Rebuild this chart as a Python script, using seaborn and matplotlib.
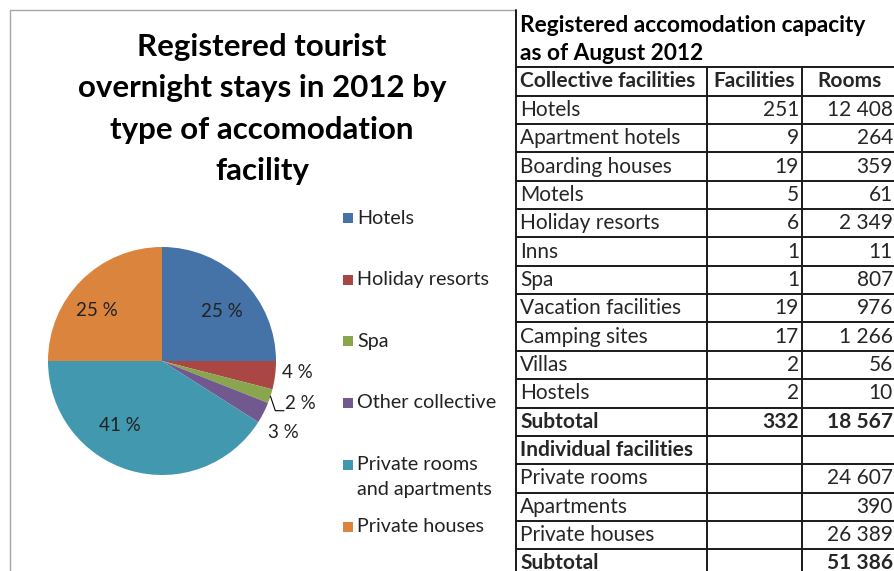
import matplotlib
matplotlib.use("Agg")
import matplotlib.pyplot as plt
import seaborn as sns
import numpy as np
from matplotlib.patches import Rectangle

# ---------------- data ----------------
categories = ["Hotels", "Holiday resorts", "Spa", "Other collective",
              "Private rooms\nand apartments", "Private houses"]
shares = [25, 4, 2, 3, 41, 25]
slice_colors = ["#4572A7", "#AA4643", "#89A54E", "#71588F", "#4198AF", "#DB843D"]

title_lines = ["Registered tourist", "overnight stays in 2012 by",
               "type of accomodation", "facility"]

table_title = ["Registered accomodation capacity", "as of August 2012"]
col_headers = ["Collective facilities", "Facilities", "Rooms"]
row_names = ["Hotels", "Apartment hotels", "Boarding houses", "Motels",
             "Holiday resorts", "Inns", "Spa", "Vacation facilities",
             "Camping sites", "Villas", "Hostels", "Subtotal",
             "Individual facilities", "Private rooms", "Apartments",
             "Private houses", "Subtotal"]
facilities = ["251", "9", "19", "5", "6", "1", "1", "19", "17", "2", "2", "332",
              "", "", "", "", ""]
rooms = ["12 408", "264", "359", "61", "2 349", "11", "807", "976", "1 266",
         "56", "10", "18 567", "", "24 607", "390", "26 389", "51 386"]
bold_rows = {"Subtotal", "Individual facilities"}

# ---------------- style ----------------
sns.set_theme(style="white")
plt.rcParams['font.family'] = ['Lato', 'DejaVu Sans']
W, H = 895, 571
fig = plt.figure(figsize=(W / 100, H / 100), dpi=100)
fig.patch.set_facecolor("white")

bg = fig.add_axes([0, 0, 1, 1])
bg.set_xlim(0, W)
bg.set_ylim(H, 0)
bg.axis("off")

# chart area border
bg.plot([10, 516], [10, 10], color="#A6A6A6", lw=1)
bg.plot([10, 10], [10, H], color="#A6A6A6", lw=1)

# title
for i, line in enumerate(title_lines):
    bg.text(262, 47 + 41.3 * i, line, ha="center", va="center",
            fontsize=22.5, fontweight="bold", color="black")

# ---------------- pie ----------------
cx, cy, R = 162, 361, 114
pax = fig.add_axes([(cx - R) / W, (H - cy - R) / H, 2 * R / W, 2 * R / H])
wedges, _ = pax.pie(shares, colors=slice_colors, startangle=90,
                    counterclock=False, radius=1,
                    wedgeprops=dict(linewidth=0))
pax.set_xlim(-1, 1)
pax.set_ylim(-1, 1)
pax.axis("off")

label_r = [0.68, 1.19, 1.27, 1.24, 0.68, 0.72]
label_dtheta = [-5, 2.4, 0.6, -3.5, -17, 7]
for w, v, r, dt, i in zip(wedges, shares, label_r, label_dtheta, range(len(shares))):
    mid = np.deg2rad((w.theta1 + w.theta2) / 2 + dt)
    x, y = r * np.cos(mid), r * np.sin(mid)
    txt = f"{v} %"
    if i == 2:
        m0 = np.deg2rad((w.theta1 + w.theta2) / 2)
        x0, y0 = np.cos(m0), np.sin(m0)
        pax.plot([x0, 0.994, 1.07], [y0, -0.436, -0.436], color="black",
                 lw=0.8, clip_on=False)
        pax.text(1.08, -0.375, txt, ha="left", va="center", fontsize=13.5,
                 color="#222222", clip_on=False)
    else:
        pax.text(x, y, txt, ha="center", va="center", fontsize=13.5,
                 color="#222222", clip_on=False)

# ---------------- legend ----------------
leg_y = [218, 280, 341, 403, 465, 527]
for w, cat, y in zip(wedges, categories, leg_y):
    bg.add_patch(Rectangle((343, y - 5), 10, 10, facecolor=w.get_facecolor(),
                           edgecolor="none"))
    for k, part in enumerate(cat.split("\n")):
        bg.text(357, y + 25 * k, part, ha="left", va="center",
                fontsize=14.2, color="#222222")

# ---------------- table ----------------
tx0, tx1, tx2, tx3 = 516, 706.7, 802.3, 900
row0, rh = 67.3, 28.35
lc, lw = "#1a1a1a", 1.4
fs = 15
n_rows = len(row_names) + 1
bg.plot([tx0, tx0], [10, H + 5], color=lc, lw=lw, clip_on=True)
for xv in (tx1, tx2):
    bg.plot([xv, xv], [row0, H + 5], color=lc, lw=lw)
for i in range(n_rows + 1):
    yv = row0 + rh * i
    if yv < H:
        bg.plot([tx0, tx3], [yv, yv], color=lc, lw=lw)

bg.text(520, 25, table_title[0], ha="left", va="center", fontsize=16.3,
        fontweight="bold", color="black")
bg.text(520, 53, table_title[1], ha="left", va="center", fontsize=16.3,
        fontweight="bold", color="black")

hy = row0 + rh / 2
bg.text(520, hy, col_headers[0], ha="left", va="center", fontsize=fs,
        fontweight="bold")
bg.text((tx1 + tx2) / 2, hy, col_headers[1], ha="center", va="center",
        fontsize=fs, fontweight="bold")
bg.text(850, hy, col_headers[2], ha="center", va="center", fontsize=fs,
        fontweight="bold")

for i, (nm, fa, ro) in enumerate(zip(row_names, facilities, rooms)):
    y = row0 + rh * (i + 1) + rh / 2
    fw = "bold" if nm in bold_rows else "normal"
    bg.text(520, y, nm, ha="left", va="center", fontsize=fs, fontweight=fw)
    if fa:
        bg.text(799, y, fa, ha="right", va="center", fontsize=fs, fontweight=fw)
    if ro:
        bg.text(893, y, ro, ha="right", va="center", fontsize=fs, fontweight=fw)

fig.savefig("out.png", dpi=100, facecolor="white")
